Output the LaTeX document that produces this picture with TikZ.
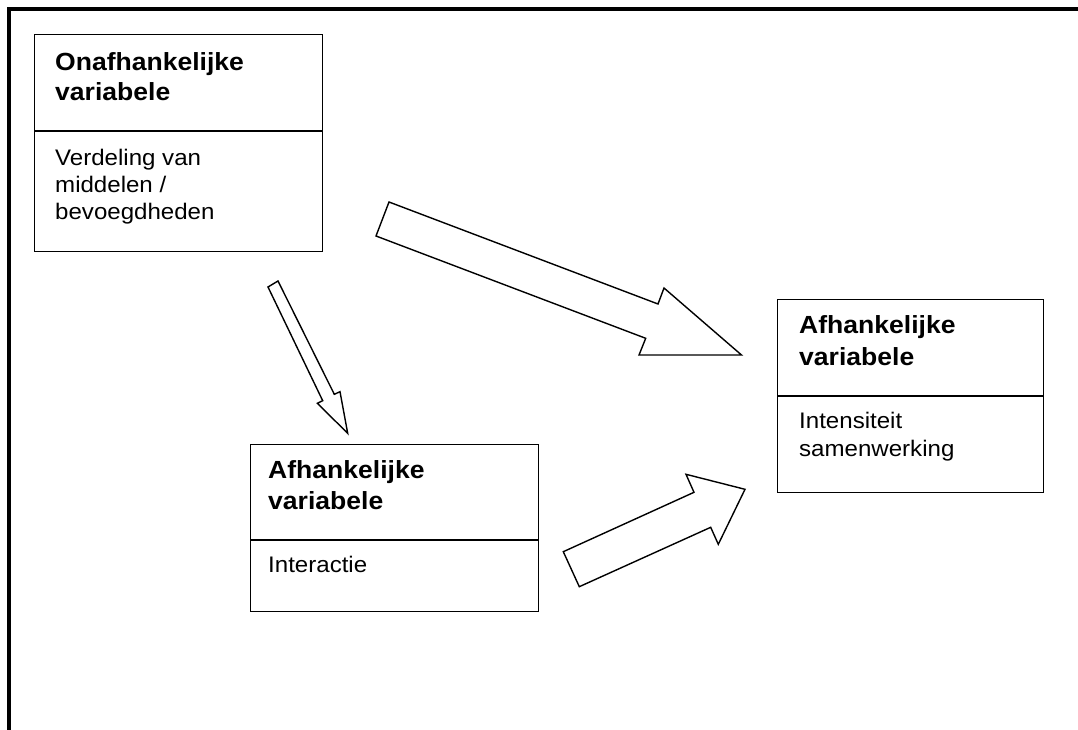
\documentclass[tikz,border=0pt]{standalone}
\usepackage{fontspec}
\setmainfont{Liberation Sans}
\newfontfamily\labfont[FakeStretch=1.07]{Liberation Sans}
\begin{document}
\begin{tikzpicture}[x=1bp,y=-1bp,
  frame/.style={line width=4bp},
  varbox/.style={draw, line width=1.4bp, rectangle, inner sep=0, anchor=north west},
  divider/.style={line width=1.4bp},
  blockarrow/.style={draw, fill=white, line width=1.4bp, line join=miter},
  head/.style={anchor=base west, inner sep=0, font=\labfont\bfseries\fontsize{24.8bp}{29bp}\selectfont},
  body/.style={anchor=base west, inner sep=0, font=\labfont\fontsize{22.5bp}{27bp}\selectfont}]
\useasboundingbox (0,0) rectangle (1078,730);

% outer frame: top and left edges only
\draw[frame] (9,735) -- (9,9) -- (1085,9);

% independent variable
\node[varbox, minimum width=288bp, minimum height=217bp] (onaf) at (34,34) {};
\draw[divider] (onaf.west |- 0,131) -- (onaf.east |- 0,131);
\node[head] (onafh1) at (55,71) {Onafhankelijke};
\node[head] (onafh2) at (55,101) {variabele};
\node[body] (onafb1) at (55,166) {Verdeling van};
\node[body] (onafb2) at (55,192.5) {middelen /};
\node[body] (onafb3) at (55,219) {bevoegdheden};

% dependent variable: interaction
\node[varbox, minimum width=288bp, minimum height=167bp] (inter) at (250,444) {};
\draw[divider] (inter.west |- 0,540) -- (inter.east |- 0,540);
\node[head] (interh1) at (268,478) {Afhankelijke};
\node[head] (interh2) at (268,509) {variabele};
\node[body] (interb1) at (268,572) {Interactie};

% dependent variable: intensity of cooperation
\node[varbox, minimum width=266bp, minimum height=193bp] (samen) at (777,299) {};
\draw[divider] (samen.west |- 0,396) -- (samen.east |- 0,396);
\node[head] (samenh1) at (799,333) {Afhankelijke};
\node[head] (samenh2) at (799,365) {variabele};
\node[body] (samenb1) at (799,428) {Intensiteit};
\node[body] (samenb2) at (799,456) {samenwerking};

% block arrows
\draw[blockarrow] (389,202) -- (658,304) -- (664,288) -- (741.5,355)
  -- (639,355) -- (645.7,338.3) -- (376,236) -- cycle;
\draw[blockarrow] (268,287) -- (278,281) -- (334.3,394.3) -- (340,391.7)
  -- (347.7,433.3) -- (317.3,403.3) -- (322.7,400.7) -- cycle;
\draw[blockarrow] (563.3,551.7) -- (694,492.3) -- (686,474.3) -- (745,489.3)
  -- (718.3,544.3) -- (710.7,527.3) -- (579.3,586.7) -- cycle;
\end{tikzpicture}
\end{document}
